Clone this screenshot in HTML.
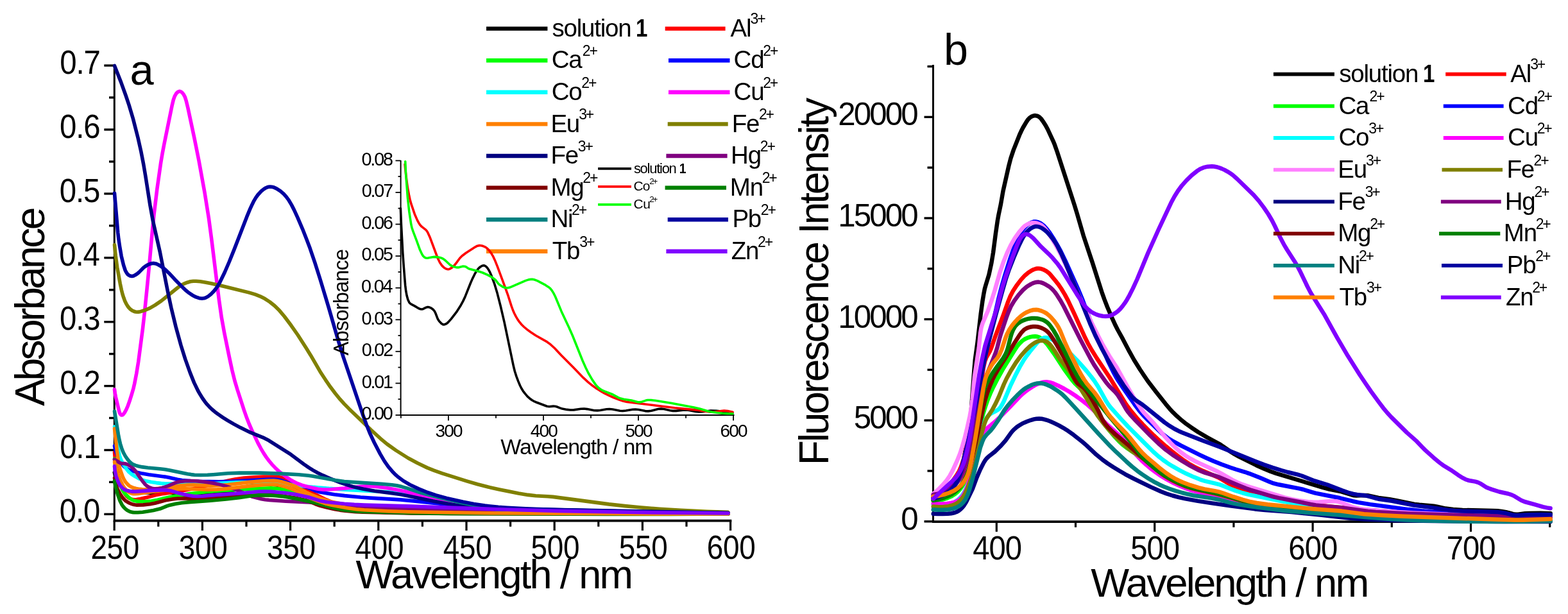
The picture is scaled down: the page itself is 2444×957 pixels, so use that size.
<!DOCTYPE html>
<html><head><meta charset="utf-8"><title>Absorbance and fluorescence spectra</title>
<style>
html,body{margin:0;padding:0;background:#fff;}
body{width:2444px;height:957px;overflow:hidden;}
svg{display:block;}
text{font-family:'Liberation Sans', Arial, sans-serif;fill:#000;}
</style></head><body>
<svg width="2444" height="957" viewBox="0 0 2444 957">
<rect width="2444" height="957" fill="#fff"/>
<line x1="178.3" y1="100.6" x2="178.3" y2="813.3" stroke="#000" stroke-width="3.0"/>
<line x1="176.8" y1="811.6" x2="1140.3" y2="811.6" stroke="#000" stroke-width="3.6"/>
<line x1="162.3" y1="801.4" x2="178.3" y2="801.4" stroke="#000" stroke-width="3.4"/>
<text x="100.74" y="814.1" font-size="51.50" textLength="69.14" lengthAdjust="spacing" transform="scale(0.9200 1)">0.0</text>
<line x1="162.3" y1="701.5" x2="178.3" y2="701.5" stroke="#000" stroke-width="3.4"/>
<text x="101.25" y="714.2" font-size="51.50" textLength="69.14" lengthAdjust="spacing" transform="scale(0.9200 1)">0.1</text>
<line x1="162.3" y1="601.6" x2="178.3" y2="601.6" stroke="#000" stroke-width="3.4"/>
<text x="101.38" y="614.3" font-size="51.50" textLength="69.14" lengthAdjust="spacing" transform="scale(0.9200 1)">0.2</text>
<line x1="162.3" y1="501.7" x2="178.3" y2="501.7" stroke="#000" stroke-width="3.4"/>
<text x="101.00" y="514.4" font-size="51.50" textLength="69.14" lengthAdjust="spacing" transform="scale(0.9200 1)">0.3</text>
<line x1="162.3" y1="401.8" x2="178.3" y2="401.8" stroke="#000" stroke-width="3.4"/>
<text x="100.22" y="414.5" font-size="51.50" textLength="69.14" lengthAdjust="spacing" transform="scale(0.9200 1)">0.4</text>
<line x1="162.3" y1="301.9" x2="178.3" y2="301.9" stroke="#000" stroke-width="3.4"/>
<text x="100.87" y="314.6" font-size="51.50" textLength="69.14" lengthAdjust="spacing" transform="scale(0.9200 1)">0.5</text>
<line x1="162.3" y1="202.0" x2="178.3" y2="202.0" stroke="#000" stroke-width="3.4"/>
<text x="101.00" y="214.7" font-size="51.50" textLength="69.14" lengthAdjust="spacing" transform="scale(0.9200 1)">0.6</text>
<line x1="162.3" y1="102.1" x2="178.3" y2="102.1" stroke="#000" stroke-width="3.4"/>
<text x="101.38" y="114.8" font-size="51.50" textLength="69.14" lengthAdjust="spacing" transform="scale(0.9200 1)">0.7</text>
<line x1="170.0" y1="751.4" x2="178.3" y2="751.4" stroke="#000" stroke-width="3.4"/>
<line x1="170.0" y1="651.5" x2="178.3" y2="651.5" stroke="#000" stroke-width="3.4"/>
<line x1="170.0" y1="551.6" x2="178.3" y2="551.6" stroke="#000" stroke-width="3.4"/>
<line x1="170.0" y1="451.8" x2="178.3" y2="451.8" stroke="#000" stroke-width="3.4"/>
<line x1="170.0" y1="351.8" x2="178.3" y2="351.8" stroke="#000" stroke-width="3.4"/>
<line x1="170.0" y1="251.9" x2="178.3" y2="251.9" stroke="#000" stroke-width="3.4"/>
<line x1="170.0" y1="152.0" x2="178.3" y2="152.0" stroke="#000" stroke-width="3.4"/>
<line x1="178.2" y1="811.6" x2="178.2" y2="827.0" stroke="#000" stroke-width="3.2"/>
<text x="161.41" y="870.8" font-size="52.40" textLength="86.63" lengthAdjust="spacing" transform="scale(0.8760 1)">250</text>
<line x1="315.4" y1="811.6" x2="315.4" y2="827.0" stroke="#000" stroke-width="3.2"/>
<text x="318.35" y="870.8" font-size="52.40" textLength="86.63" lengthAdjust="spacing" transform="scale(0.8760 1)">300</text>
<line x1="452.6" y1="811.6" x2="452.6" y2="827.0" stroke="#000" stroke-width="3.2"/>
<text x="474.98" y="870.8" font-size="52.40" textLength="86.63" lengthAdjust="spacing" transform="scale(0.8760 1)">350</text>
<line x1="589.8" y1="811.6" x2="589.8" y2="827.0" stroke="#000" stroke-width="3.2"/>
<text x="631.99" y="870.8" font-size="52.40" textLength="86.63" lengthAdjust="spacing" transform="scale(0.8760 1)">400</text>
<line x1="727.0" y1="811.6" x2="727.0" y2="827.0" stroke="#000" stroke-width="3.2"/>
<text x="788.61" y="870.8" font-size="52.40" textLength="86.63" lengthAdjust="spacing" transform="scale(0.8760 1)">450</text>
<line x1="864.2" y1="811.6" x2="864.2" y2="827.0" stroke="#000" stroke-width="3.2"/>
<text x="944.77" y="870.8" font-size="52.40" textLength="86.63" lengthAdjust="spacing" transform="scale(0.8760 1)">500</text>
<line x1="1001.4" y1="811.6" x2="1001.4" y2="827.0" stroke="#000" stroke-width="3.2"/>
<text x="1101.39" y="870.8" font-size="52.40" textLength="86.63" lengthAdjust="spacing" transform="scale(0.8760 1)">550</text>
<line x1="1138.6" y1="811.6" x2="1138.6" y2="827.0" stroke="#000" stroke-width="3.2"/>
<text x="1257.75" y="870.8" font-size="52.40" textLength="86.63" lengthAdjust="spacing" transform="scale(0.8760 1)">600</text>
<line x1="246.8" y1="811.6" x2="246.8" y2="820.8" stroke="#000" stroke-width="3.2"/>
<line x1="384.0" y1="811.6" x2="384.0" y2="820.8" stroke="#000" stroke-width="3.2"/>
<line x1="521.2" y1="811.6" x2="521.2" y2="820.8" stroke="#000" stroke-width="3.2"/>
<line x1="658.4" y1="811.6" x2="658.4" y2="820.8" stroke="#000" stroke-width="3.2"/>
<line x1="795.6" y1="811.6" x2="795.6" y2="820.8" stroke="#000" stroke-width="3.2"/>
<line x1="932.8" y1="811.6" x2="932.8" y2="820.8" stroke="#000" stroke-width="3.2"/>
<line x1="1070.0" y1="811.6" x2="1070.0" y2="820.8" stroke="#000" stroke-width="3.2"/>
<text x="554.58" y="916.8" font-size="63.00" textLength="432.51" lengthAdjust="spacing">Wavelength / nm</text>
<text x="-0.16" y="0" font-size="64.00" textLength="310.01" lengthAdjust="spacing" transform="translate(68.70 632.60) rotate(-90) scale(1.0000 1)">Absorbance</text>
<text x="202.46" y="132.0" font-size="66.80">a</text>
<path d="M178.3 736.4L179.7 741.7L181.9 747.3L184.7 752.6L187.7 757.2L190.8 760.4L194.4 763.0L198.0 764.8L202.3 765.9L209.7 766.6L234.7 768.1L241.2 768.1L256.1 767.5L265.1 767.8L274.1 768.7L285.8 771.3L292.2 772.3L299.1 772.9L306.1 772.8L314.1 772.2L324.0 771.0L337.9 769.1L349.2 767.2L362.9 764.4L384.6 758.6L397.4 756.1L404.3 755.2L411.3 754.6L417.3 754.5L422.3 754.7L431.2 755.9L441.0 757.9L449.2 760.1L457.7 763.0L462.8 765.1L468.6 767.9L501.8 785.3L507.3 787.7L514.0 789.9L523.2 792.3L535.9 794.6L543.9 795.5L561.3 796.8L583.8 797.9L618.8 799.0L640.8 799.4L1133.1 800.6" stroke="#000000" stroke-width="5.6" fill="none" stroke-linejoin="round" stroke-linecap="round"/>
<path d="M178.5 705.0L179.2 712.5L180.2 719.9L184.1 740.5L186.9 751.2L190.8 762.0L192.6 766.1L194.2 769.2L195.9 771.6L197.8 773.9L200.1 775.7L202.7 777.2L205.5 778.2L208.4 778.7L212.8 778.6L218.7 777.6L229.0 775.3L243.0 771.6L249.9 770.2L282.0 765.2L301.1 761.8L313.4 759.1L356.2 749.0L367.4 746.7L380.3 745.0L396.3 743.7L410.8 743.0L424.2 743.0L432.2 743.4L438.6 744.3L446.4 746.3L453.4 748.8L459.2 751.7L473.0 760.8L484.8 767.3L508.2 778.7L517.9 782.8L523.6 784.4L529.5 785.5L540.9 786.9L554.9 788.1L616.2 793.0L639.6 794.5L687.1 796.2L741.6 797.6L793.5 798.4L962.5 799.9L1054.5 800.4L1135.0 800.5" stroke="#FF0000" stroke-width="5.6" fill="none" stroke-linejoin="round" stroke-linecap="round"/>
<path d="M178.5 715.0L179.2 721.5L180.4 728.4L184.4 746.4L187.5 755.9L189.4 760.5L191.4 764.5L193.6 767.9L196.5 771.3L200.1 774.8L203.6 777.6L206.6 779.3L209.3 780.4L212.7 781.1L216.7 781.6L226.7 781.9L236.1 781.1L244.0 779.6L262.9 775.1L281.1 771.8L297.9 769.3L322.3 766.5L337.2 765.2L356.2 764.0L407.1 761.3L422.6 760.9L430.1 761.3L438.5 762.3L451.4 764.3L459.2 765.8L466.9 768.0L483.2 773.0L511.0 782.7L518.8 784.7L530.0 786.9L545.3 789.4L560.2 791.2L571.2 792.1L605.1 794.1L628.1 795.3L648.1 795.9L731.5 797.9L783.5 798.8L985.5 800.3L1135.0 800.5" stroke="#00FF00" stroke-width="5.6" fill="none" stroke-linejoin="round" stroke-linecap="round"/>
<path d="M178.5 695.0L179.8 700.8L181.6 706.6L184.6 714.0L187.3 719.3L190.1 723.4L193.0 726.8L196.5 729.7L199.9 731.7L203.5 733.3L208.8 734.9L221.9 738.1L231.7 739.8L257.0 743.1L263.4 744.3L276.5 747.3L283.9 748.5L296.9 749.6L310.3 750.3L341.3 750.7L360.3 750.2L414.7 747.3L424.7 747.1L430.7 747.3L434.1 747.8L438.0 748.7L449.8 752.8L454.6 754.2L472.7 758.1L478.5 759.6L483.2 761.3L491.9 765.1L496.2 766.4L507.4 768.6L521.3 770.7L537.1 772.6L562.0 775.0L577.0 776.1L623.9 778.9L642.3 780.6L698.5 786.5L734.8 789.3L764.3 791.3L804.7 793.2L904.6 796.0L1050.0 798.9L1135.0 800.0" stroke="#0000FF" stroke-width="5.6" fill="none" stroke-linejoin="round" stroke-linecap="round"/>
<path d="M178.5 665.0L179.9 676.4L182.5 692.2L184.4 702.0L186.4 710.3L188.1 715.5L190.2 720.0L193.8 726.0L197.7 731.8L200.9 735.6L205.1 739.1L211.0 742.9L217.2 746.2L221.8 748.0L226.6 749.4L235.4 751.2L243.8 752.6L251.2 753.4L258.2 753.8L318.2 753.8L334.2 753.5L368.1 751.9L385.1 751.5L407.6 751.6L427.1 752.4L440.0 753.7L472.3 757.7L512.6 761.4L545.0 763.6L608.4 767.0L624.9 768.2L633.3 769.4L642.1 771.1L670.8 778.0L681.5 780.3L706.7 784.6L724.5 787.3L737.4 789.0L749.8 790.1L784.2 792.7L813.1 794.5L847.6 795.9L949.1 798.2L1065.5 799.9L1135.0 800.5" stroke="#00FFFF" stroke-width="5.6" fill="none" stroke-linejoin="round" stroke-linecap="round"/>
<path d="M178.5 607.0L179.3 612.9L180.4 618.8L185.6 640.7L186.7 644.0L187.8 645.9L189.0 646.9L190.3 647.0L191.2 646.6L192.2 645.7L194.2 643.1L196.8 638.3L199.4 632.3L201.9 625.3L205.5 613.8L208.0 605.2L209.7 597.9L212.8 581.7L215.7 563.9L222.4 512.9L225.5 485.5L228.8 452.7L232.8 411.9L237.6 358.1L240.1 333.8L244.9 294.1L250.6 254.0L253.1 239.2L255.8 225.0L268.0 165.2L270.3 155.5L272.3 149.9L274.8 145.6L276.5 143.9L278.0 142.9L279.6 142.4L280.9 142.5L282.1 143.0L283.6 144.0L286.1 147.0L288.4 151.4L290.2 157.1L293.0 168.7L303.1 216.1L310.0 250.5L319.0 300.1L325.4 340.1L329.5 370.8L341.3 466.6L345.4 495.3L349.7 518.9L357.4 556.6L361.7 576.6L365.9 593.6L369.9 607.0L380.4 639.4L384.7 651.6L388.2 660.5L392.2 669.6L402.0 690.4L406.5 698.8L410.8 706.1L414.9 712.4L419.1 718.0L423.9 723.8L429.0 729.2L434.5 734.3L440.3 739.1L447.6 744.4L453.8 748.5L459.0 751.4L464.0 753.7L470.6 756.2L477.8 758.3L495.8 762.2L504.3 763.1L515.3 762.8L536.7 761.1L560.6 758.6L570.5 757.9L580.5 758.0L591.0 758.9L606.8 761.2L630.4 765.7L642.9 769.0L673.6 778.1L681.8 780.1L693.1 782.5L711.2 786.0L726.0 788.6L738.9 790.3L752.3 791.7L805.6 796.0L826.1 797.2L845.1 797.9L968.5 799.7L1135.0 801.0" stroke="#FF00FF" stroke-width="5.6" fill="none" stroke-linejoin="round" stroke-linecap="round"/>
<path d="M178.5 668.0L182.3 702.3L184.9 721.6L185.9 726.5L187.1 731.3L191.1 742.6L193.2 747.1L195.5 751.0L198.4 754.4L201.3 757.1L204.3 758.9L207.5 760.2L212.3 761.4L217.7 762.4L221.7 762.8L225.7 763.0L237.1 762.2L259.5 759.9L282.3 756.7L291.2 756.0L302.2 755.9L327.7 757.1L340.2 756.8L355.1 755.5L385.9 751.9L401.3 750.4L416.2 749.3L426.2 749.1L431.7 749.6L438.1 750.8L445.8 752.9L454.3 755.7L462.1 759.1L477.5 767.5L484.7 770.9L501.4 777.5L508.1 779.7L513.8 781.4L535.8 786.1L555.5 789.4L568.9 790.9L601.8 793.5L625.8 795.0L646.2 795.9L724.7 797.8L776.6 798.8L987.6 800.3L1135.0 800.5" stroke="#FF8000" stroke-width="5.6" fill="none" stroke-linejoin="round" stroke-linecap="round"/>
<path d="M178.5 381.5L180.2 398.4L182.7 416.7L187.3 442.3L189.4 452.1L191.1 458.9L192.8 464.1L194.7 469.2L196.7 473.3L198.7 476.7L200.8 479.5L203.2 481.9L206.0 484.0L208.7 485.3L211.0 486.0L213.5 486.2L215.9 486.1L218.9 485.7L226.0 483.5L233.8 480.1L241.6 475.6L251.5 468.9L276.8 448.5L281.6 445.0L286.5 442.4L292.0 440.2L296.8 438.8L301.3 438.2L305.7 438.2L312.2 438.8L319.6 440.0L328.9 441.8L345.5 445.5L387.7 455.9L397.8 458.9L405.3 461.8L412.8 465.6L420.4 470.5L428.2 476.7L435.6 484.1L443.3 493.3L453.8 507.3L464.1 522.0L477.1 542.2L484.2 553.7L499.0 579.2L507.7 592.6L515.1 603.3L522.6 613.3L529.9 622.2L536.6 629.6L544.3 637.4L578.2 670.0L593.3 683.8L603.3 692.1L617.2 702.0L636.2 714.0L650.7 721.8L666.0 729.1L676.7 733.4L689.4 737.9L727.5 749.9L744.3 754.8L760.8 759.0L778.4 762.9L808.3 768.9L823.1 771.4L835.0 772.8L853.9 773.7L861.9 774.4L949.1 785.9L974.0 788.6L996.9 790.8L1027.8 793.2L1061.2 795.3L1102.1 797.2L1134.6 798.3" stroke="#808000" stroke-width="5.6" fill="none" stroke-linejoin="round" stroke-linecap="round"/>
<path d="M178.5 102.5L188.6 128.1L196.2 149.3L201.1 163.9L207.4 185.0L215.1 215.1L219.8 236.0L223.7 256.1L226.8 274.4L234.0 320.3L238.5 344.9L249.4 393.2L261.7 455.5L266.9 479.9L274.1 509.5L282.1 538.5L288.8 559.9L296.2 580.6L302.5 596.4L308.6 609.0L312.1 615.1L315.8 621.0L319.3 625.9L322.7 630.2L326.4 634.2L330.4 638.0L335.0 641.9L340.2 645.8L347.2 650.6L354.8 655.4L364.3 660.9L374.9 666.6L390.6 674.2L409.7 681.8L419.0 686.6L451.1 706.8L473.6 723.5L481.4 728.9L487.8 732.9L495.2 737.0L503.3 740.9L513.4 745.4L522.6 749.2L531.0 752.4L541.4 755.9L549.6 758.4L557.3 760.3L566.6 762.2L583.9 765.2L612.6 768.9L625.0 770.8L638.7 773.4L674.9 781.1L705.5 786.4L726.2 789.4L742.7 791.0L781.6 792.5L835.6 793.9L1135.0 799.5" stroke="#000080" stroke-width="5.6" fill="none" stroke-linejoin="round" stroke-linecap="round"/>
<path d="M178.5 716.1L187.2 721.6L189.4 722.2L194.8 722.6L197.1 723.2L200.3 724.6L204.0 727.0L207.7 730.3L210.7 733.7L222.2 750.0L226.3 755.0L228.5 757.0L231.0 758.7L234.1 760.2L236.9 761.2L240.3 761.8L243.8 761.9L247.7 761.5L252.6 760.5L259.8 758.3L273.5 752.4L277.4 751.2L281.3 750.5L288.7 749.8L296.7 749.6L305.2 749.8L313.7 750.5L322.1 751.5L331.5 752.9L339.4 754.4L346.2 756.1L355.7 759.0L367.5 763.1L373.1 765.4L386.7 771.7L393.7 774.3L400.5 776.1L407.3 777.7L413.2 778.7L419.7 779.4L445.6 781.2L482.1 783.0L493.0 784.0L524.8 787.6L556.2 789.7L586.2 791.4L635.1 793.6L692.1 795.8L778.0 797.9L842.0 798.9L1009.5 800.2L1135.0 800.5" stroke="#800080" stroke-width="5.6" fill="none" stroke-linejoin="round" stroke-linecap="round"/>
<path d="M178.5 745.0L180.2 753.3L181.8 758.6L183.4 762.8L186.9 769.4L189.6 773.6L191.9 776.8L194.0 779.0L195.8 780.6L198.3 782.3L201.4 783.9L204.6 785.3L207.4 786.2L210.3 786.8L213.3 787.1L223.3 786.9L233.7 785.7L241.6 784.2L259.9 779.4L268.8 777.9L277.2 777.0L285.7 776.8L304.2 777.7L313.2 777.7L394.5 772.4L410.5 771.8L425.5 771.7L433.0 772.0L440.4 772.9L460.1 776.1L471.4 778.4L477.2 779.8L481.5 781.1L492.0 785.8L497.2 787.7L509.7 791.0L521.9 793.7L529.8 795.1L538.2 796.1L554.2 797.6L565.6 798.3L640.6 799.9L695.6 800.5L957.0 801.2L1135.0 801.0" stroke="#800000" stroke-width="5.6" fill="none" stroke-linejoin="round" stroke-linecap="round"/>
<path d="M178.5 749.6L180.2 758.9L184.0 772.4L186.9 780.4L190.0 786.6L192.0 789.5L194.0 791.7L196.2 793.7L198.6 795.5L201.2 796.9L203.5 797.8L205.9 798.4L208.8 798.7L214.8 798.7L222.3 798.2L230.2 797.1L239.1 795.5L249.3 793.1L260.4 788.7L265.2 787.2L274.0 785.3L283.4 783.8L294.8 782.6L325.7 780.5L352.6 778.0L372.5 775.8L388.8 773.2L395.2 772.4L402.7 771.9L411.2 771.8L420.7 772.0L430.7 772.6L439.6 773.6L449.0 775.0L463.8 777.7L485.3 782.2L494.5 784.5L517.1 790.9L529.3 793.7L536.7 794.9L546.1 796.0L556.6 796.9L566.6 797.5L647.5 799.7L700.5 800.5L946.0 801.5L1044.5 801.4L1135.0 801.0" stroke="#008000" stroke-width="5.6" fill="none" stroke-linejoin="round" stroke-linecap="round"/>
<path d="M178.5 641.0L184.4 677.0L186.0 685.4L187.5 691.7L189.4 697.9L190.9 702.1L192.7 706.2L195.4 711.0L198.8 715.9L202.0 719.7L205.0 722.3L208.0 724.1L211.2 725.4L216.0 726.7L221.9 727.9L230.3 729.0L249.2 730.7L257.7 731.7L264.6 732.9L292.4 738.7L297.9 739.6L303.3 740.2L312.8 740.5L323.3 740.3L332.3 739.7L355.2 737.7L373.7 737.1L405.2 737.1L435.1 738.1L465.6 739.8L481.0 741.2L487.9 742.2L522.8 748.6L536.7 750.5L548.1 751.4L594.5 754.2L611.0 755.7L618.4 756.8L626.2 758.6L634.3 760.9L652.9 767.0L661.5 769.6L684.7 775.5L705.6 780.4L720.8 783.7L760.0 791.7L773.3 793.9L785.2 795.2L833.6 797.4L885.6 798.8L1044.0 800.6L1135.0 801.0" stroke="#008080" stroke-width="5.6" fill="none" stroke-linejoin="round" stroke-linecap="round"/>
<path d="M178.5 301.0L183.7 362.3L184.9 372.7L186.6 384.1L189.2 399.3L192.6 413.4L195.3 421.5L196.6 424.1L198.2 426.6L200.3 428.6L202.8 430.0L205.6 430.4L208.3 429.9L211.0 428.6L214.3 426.4L216.9 424.1L223.9 417.0L226.7 415.0L230.1 412.9L233.8 411.3L237.1 410.5L240.0 410.4L243.4 411.1L246.6 412.5L250.0 414.5L254.5 417.7L258.7 421.2L263.4 425.7L272.2 435.2L285.2 448.4L289.5 452.5L293.4 455.7L299.6 459.9L305.3 462.9L310.5 464.7L314.9 465.2L318.3 464.8L321.5 463.6L324.9 461.6L328.8 458.5L332.7 454.6L336.2 450.4L339.6 445.4L342.8 439.8L350.2 424.5L357.3 408.0L365.3 388.1L384.6 338.2L389.8 325.7L392.9 318.9L395.8 313.1L398.9 307.9L402.1 303.5L406.8 298.3L411.4 294.6L414.0 293.0L416.2 292.0L418.6 291.3L421.0 291.1L423.5 291.2L425.9 291.7L430.9 293.8L436.8 297.6L442.1 302.1L446.1 306.6L450.2 312.2L454.3 319.1L458.4 327.1L463.8 338.9L471.5 356.8L477.4 371.7L483.2 387.1L490.8 409.4L499.4 436.5L512.1 478.6L527.4 531.4L535.1 556.3L565.5 646.2L571.5 662.7L576.3 674.7L583.3 689.7L592.5 707.4L599.1 718.6L605.4 727.6L612.9 736.3L616.8 740.2L621.0 743.8L629.0 749.7L638.9 755.5L652.5 761.9L666.4 767.5L679.7 771.9L696.1 776.4L721.9 782.3L738.6 785.6L755.9 788.1L776.8 790.3L790.2 791.3L824.2 793.1L869.6 794.6L983.6 797.2L1135.0 799.5" stroke="#0000A0" stroke-width="5.6" fill="none" stroke-linejoin="round" stroke-linecap="round"/>
<path d="M178.5 720.0L180.2 727.8L183.0 736.9L187.6 749.0L191.4 756.6L194.8 761.5L199.0 765.7L201.5 767.5L203.6 768.6L205.5 769.2L207.9 769.7L210.8 769.7L214.8 769.4L236.6 766.4L262.4 763.4L275.4 762.3L282.9 761.9L290.4 761.9L322.8 763.1L337.3 763.0L354.3 761.6L386.1 757.9L401.5 756.4L416.4 755.3L425.9 755.1L431.4 755.6L437.8 756.8L445.5 758.8L454.0 761.6L461.8 765.0L476.3 772.9L483.1 776.2L496.1 781.2L507.5 784.9L518.2 787.4L541.3 791.7L555.2 793.7L567.6 794.8L605.6 796.7L637.1 797.7L764.5 799.7L974.0 800.8L1135.0 801.0" stroke="#FF8000" stroke-width="5.6" fill="none" stroke-linejoin="round" stroke-linecap="round"/>
<path d="M178.5 726.6L179.2 734.1L180.9 741.9L183.9 750.3L185.6 753.9L187.2 756.5L190.4 760.3L192.2 761.9L194.3 763.2L196.6 764.2L199.4 765.1L205.3 766.1L211.8 766.1L231.7 764.6L241.2 764.1L252.2 763.9L260.7 764.1L267.1 765.1L279.0 768.7L293.2 771.9L301.0 773.2L307.5 773.5L315.5 773.2L336.9 771.4L371.8 769.0L402.7 766.3L412.2 766.0L422.7 766.3L444.6 768.2L460.4 770.6L481.0 775.0L498.6 780.4L507.0 782.1L521.3 783.8L536.8 785.3L552.2 786.4L567.7 787.1L641.2 789.1L773.6 793.7L868.5 796.4L1019.0 798.9L1135.0 800.0" stroke="#8000FF" stroke-width="5.6" fill="none" stroke-linejoin="round" stroke-linecap="round"/>
<line x1="758.0" y1="44.6" x2="853.4" y2="44.6" stroke="#000000" stroke-width="6.4"/>
<text x="860.54" y="56.8" font-size="38.50" textLength="124.03" lengthAdjust="spacing">solution</text>
<text x="1152.48" y="56.8" font-size="38.50" transform="scale(0.8600 1)" font-weight="bold">1</text>
<line x1="758.0" y1="94.2" x2="853.4" y2="94.2" stroke="#00FF00" stroke-width="6.4"/>
<text x="859.68" y="106.4" font-size="38.50" textLength="47.98" lengthAdjust="spacing">Ca</text>
<text x="907.77" y="87.0" font-size="23.00" textLength="24.10" lengthAdjust="spacing">2+</text>
<line x1="758.0" y1="143.8" x2="853.4" y2="143.8" stroke="#00FFFF" stroke-width="6.4"/>
<text x="859.68" y="156.0" font-size="38.50" textLength="47.98" lengthAdjust="spacing">Co</text>
<text x="906.23" y="136.6" font-size="23.00" textLength="24.10" lengthAdjust="spacing">2+</text>
<line x1="758.0" y1="193.4" x2="853.4" y2="193.4" stroke="#FF8000" stroke-width="6.4"/>
<text x="858.42" y="205.6" font-size="38.50" textLength="45.85" lengthAdjust="spacing">Eu</text>
<text x="902.19" y="186.2" font-size="23.00" textLength="24.10" lengthAdjust="spacing">3+</text>
<line x1="758.0" y1="243.0" x2="853.4" y2="243.0" stroke="#000080" stroke-width="6.4"/>
<text x="858.42" y="255.2" font-size="38.50" textLength="43.69" lengthAdjust="spacing">Fe</text>
<text x="900.84" y="235.8" font-size="23.00" textLength="24.10" lengthAdjust="spacing">3+</text>
<line x1="758.0" y1="292.6" x2="853.4" y2="292.6" stroke="#800000" stroke-width="6.4"/>
<text x="858.42" y="304.8" font-size="38.50" textLength="52.24" lengthAdjust="spacing">Mg</text>
<text x="908.35" y="285.4" font-size="23.00" textLength="24.10" lengthAdjust="spacing">2+</text>
<line x1="758.0" y1="342.2" x2="853.4" y2="342.2" stroke="#008080" stroke-width="6.4"/>
<text x="858.42" y="354.4" font-size="38.50" textLength="35.12" lengthAdjust="spacing">Ni</text>
<text x="891.12" y="335.0" font-size="23.00" textLength="24.10" lengthAdjust="spacing">2+</text>
<line x1="758.0" y1="391.8" x2="853.4" y2="391.8" stroke="#FF8000" stroke-width="6.4"/>
<text x="860.73" y="404.0" font-size="38.50" textLength="43.69" lengthAdjust="spacing">Tb</text>
<text x="903.25" y="384.6" font-size="23.00" textLength="24.10" lengthAdjust="spacing">3+</text>
<line x1="1036.7" y1="44.6" x2="1130.6" y2="44.6" stroke="#FF0000" stroke-width="6.4"/>
<text x="1138.60" y="56.8" font-size="38.50" textLength="32.99" lengthAdjust="spacing">Al</text>
<text x="1169.47" y="37.4" font-size="23.00" textLength="24.10" lengthAdjust="spacing">3+</text>
<line x1="1042.0" y1="94.2" x2="1137.5" y2="94.2" stroke="#0000FF" stroke-width="6.4"/>
<text x="1143.58" y="106.4" font-size="38.50" textLength="47.98" lengthAdjust="spacing">Cd</text>
<text x="1189.26" y="87.0" font-size="23.00" textLength="24.10" lengthAdjust="spacing">2+</text>
<line x1="1042.0" y1="143.8" x2="1137.5" y2="143.8" stroke="#FF00FF" stroke-width="6.4"/>
<text x="1143.58" y="156.0" font-size="38.50" textLength="47.98" lengthAdjust="spacing">Cu</text>
<text x="1189.17" y="136.6" font-size="23.00" textLength="24.10" lengthAdjust="spacing">2+</text>
<line x1="1040.7" y1="193.4" x2="1134.7" y2="193.4" stroke="#808000" stroke-width="6.4"/>
<text x="1140.82" y="205.6" font-size="38.50" textLength="43.69" lengthAdjust="spacing">Fe</text>
<text x="1182.95" y="186.2" font-size="23.00" textLength="24.10" lengthAdjust="spacing">2+</text>
<line x1="1038.4" y1="243.0" x2="1133.6" y2="243.0" stroke="#800080" stroke-width="6.4"/>
<text x="1139.12" y="255.2" font-size="38.50" textLength="47.98" lengthAdjust="spacing">Hg</text>
<text x="1184.81" y="235.8" font-size="23.00" textLength="24.10" lengthAdjust="spacing">2+</text>
<line x1="1036.6" y1="292.6" x2="1132.0" y2="292.6" stroke="#008000" stroke-width="6.4"/>
<text x="1137.82" y="304.8" font-size="38.50" textLength="52.24" lengthAdjust="spacing">Mn</text>
<text x="1187.65" y="285.4" font-size="23.00" textLength="24.10" lengthAdjust="spacing">2+</text>
<line x1="1040.7" y1="342.2" x2="1135.0" y2="342.2" stroke="#0000A0" stroke-width="6.4"/>
<text x="1141.42" y="354.4" font-size="38.50" textLength="45.85" lengthAdjust="spacing">Pb</text>
<text x="1185.86" y="335.0" font-size="23.00" textLength="24.10" lengthAdjust="spacing">2+</text>
<line x1="1038.4" y1="391.8" x2="1133.6" y2="391.8" stroke="#8000FF" stroke-width="6.4"/>
<text x="1139.75" y="404.0" font-size="38.50" textLength="43.69" lengthAdjust="spacing">Zn</text>
<text x="1181.01" y="384.6" font-size="23.00" textLength="24.10" lengthAdjust="spacing">2+</text>
<line x1="624.6" y1="250.0" x2="624.6" y2="648.0" stroke="#000" stroke-width="2.0"/>
<line x1="623.6" y1="647.0" x2="1144.5" y2="647.0" stroke="#000" stroke-width="2.0"/>
<line x1="616.5" y1="647.0" x2="624.6" y2="647.0" stroke="#000" stroke-width="1.8"/>
<text x="563.40" y="654.3" font-size="28.80" textLength="49.42" lengthAdjust="spacing">0.00</text>
<line x1="616.5" y1="597.4" x2="624.6" y2="597.4" stroke="#000" stroke-width="1.8"/>
<text x="563.69" y="604.7" font-size="28.80" textLength="49.42" lengthAdjust="spacing">0.01</text>
<line x1="616.5" y1="547.8" x2="624.6" y2="547.8" stroke="#000" stroke-width="1.8"/>
<text x="563.76" y="555.1" font-size="28.80" textLength="49.42" lengthAdjust="spacing">0.02</text>
<line x1="616.5" y1="498.3" x2="624.6" y2="498.3" stroke="#000" stroke-width="1.8"/>
<text x="563.55" y="505.6" font-size="28.80" textLength="49.42" lengthAdjust="spacing">0.03</text>
<line x1="616.5" y1="448.7" x2="624.6" y2="448.7" stroke="#000" stroke-width="1.8"/>
<text x="563.12" y="456.0" font-size="28.80" textLength="49.42" lengthAdjust="spacing">0.04</text>
<line x1="616.5" y1="399.1" x2="624.6" y2="399.1" stroke="#000" stroke-width="1.8"/>
<text x="563.48" y="406.4" font-size="28.80" textLength="49.42" lengthAdjust="spacing">0.05</text>
<line x1="616.5" y1="349.5" x2="624.6" y2="349.5" stroke="#000" stroke-width="1.8"/>
<text x="563.55" y="356.8" font-size="28.80" textLength="49.42" lengthAdjust="spacing">0.06</text>
<line x1="616.5" y1="299.9" x2="624.6" y2="299.9" stroke="#000" stroke-width="1.8"/>
<text x="563.76" y="307.2" font-size="28.80" textLength="49.42" lengthAdjust="spacing">0.07</text>
<line x1="616.5" y1="250.4" x2="624.6" y2="250.4" stroke="#000" stroke-width="1.8"/>
<text x="563.55" y="257.7" font-size="28.80" textLength="49.42" lengthAdjust="spacing">0.08</text>
<line x1="620.5" y1="622.2" x2="624.6" y2="622.2" stroke="#000" stroke-width="1.8"/>
<line x1="620.5" y1="572.6" x2="624.6" y2="572.6" stroke="#000" stroke-width="1.8"/>
<line x1="620.5" y1="523.0" x2="624.6" y2="523.0" stroke="#000" stroke-width="1.8"/>
<line x1="620.5" y1="473.5" x2="624.6" y2="473.5" stroke="#000" stroke-width="1.8"/>
<line x1="620.5" y1="423.9" x2="624.6" y2="423.9" stroke="#000" stroke-width="1.8"/>
<line x1="620.5" y1="374.3" x2="624.6" y2="374.3" stroke="#000" stroke-width="1.8"/>
<line x1="620.5" y1="324.7" x2="624.6" y2="324.7" stroke="#000" stroke-width="1.8"/>
<line x1="620.5" y1="275.1" x2="624.6" y2="275.1" stroke="#000" stroke-width="1.8"/>
<line x1="698.9" y1="647.0" x2="698.9" y2="655.5" stroke="#000" stroke-width="1.8"/>
<text x="678.43" y="680.6" font-size="28.00" textLength="43.03" lengthAdjust="spacing">300</text>
<line x1="847.0" y1="647.0" x2="847.0" y2="655.5" stroke="#000" stroke-width="1.8"/>
<text x="826.70" y="680.6" font-size="28.00" textLength="43.03" lengthAdjust="spacing">400</text>
<line x1="995.0" y1="647.0" x2="995.0" y2="655.5" stroke="#000" stroke-width="1.8"/>
<text x="974.51" y="680.6" font-size="28.00" textLength="43.03" lengthAdjust="spacing">500</text>
<line x1="1143.1" y1="647.0" x2="1143.1" y2="655.5" stroke="#000" stroke-width="1.8"/>
<text x="1122.43" y="680.6" font-size="28.00" textLength="43.03" lengthAdjust="spacing">600</text>
<line x1="624.9" y1="647.0" x2="624.9" y2="651.7" stroke="#000" stroke-width="1.8"/>
<line x1="773.0" y1="647.0" x2="773.0" y2="651.7" stroke="#000" stroke-width="1.8"/>
<line x1="921.0" y1="647.0" x2="921.0" y2="651.7" stroke="#000" stroke-width="1.8"/>
<line x1="1069.1" y1="647.0" x2="1069.1" y2="651.7" stroke="#000" stroke-width="1.8"/>
<text x="780.33" y="708.4" font-size="34.00" textLength="237.23" lengthAdjust="spacing">Wavelength / nm</text>
<text x="-0.08" y="0" font-size="32.50" textLength="166.13" lengthAdjust="spacing" transform="translate(542.60 554.00) rotate(-90) scale(1.0000 1)">Absorbance</text>
<path d="M624.4 324.8L625.4 349.8L627.8 394.2L629.3 415.6L631.7 445.0L632.7 453.4L634.1 460.8L635.8 467.0L637.7 471.1L638.9 472.6L640.9 474.1L646.2 476.9L652.2 480.5L655.4 481.8L657.3 482.0L658.8 481.8L664.2 479.2L666.5 478.6L668.9 478.8L672.1 480.2L674.9 482.3L677.2 484.9L678.8 488.0L682.4 497.3L684.0 499.8L685.9 502.1L688.0 504.3L690.0 505.6L691.9 505.9L694.2 505.3L696.4 504.1L698.3 502.5L703.0 497.4L711.3 486.7L717.5 477.1L721.6 469.6L724.8 462.9L733.3 441.5L736.3 434.6L740.3 426.5L743.4 421.4L745.3 419.1L747.0 417.3L749.0 415.8L751.1 414.5L752.9 413.9L754.4 413.8L755.7 414.2L757.4 415.2L759.4 417.3L761.4 420.2L763.6 424.2L765.6 428.7L770.5 441.8L775.1 457.1L780.2 477.0L786.0 501.8L800.3 570.3L802.3 578.5L804.9 586.6L807.7 594.1L810.6 601.0L812.6 605.0L815.2 609.3L818.5 613.7L822.1 617.9L825.8 621.2L829.4 623.8L832.0 625.3L835.2 626.7L852.5 633.2L856.0 633.7L862.4 633.1L864.9 633.2L867.3 633.8L873.4 636.1L876.2 637.0L883.6 638.4L889.0 639.0L894.5 638.9L905.4 637.3L910.4 637.0L915.3 637.6L926.1 639.7L931.1 639.9L935.6 639.5L945.4 637.8L949.9 637.5L954.9 638.0L966.2 640.2L970.6 640.5L975.6 640.0L986.0 638.3L990.4 638.0L995.4 638.5L1005.7 640.6L1010.2 640.9L1015.1 640.3L1025.7 637.5L1030.2 637.1L1034.6 637.5L1044.4 639.7L1048.8 640.4L1053.8 640.4L1064.7 639.2L1069.7 639.0L1074.2 639.5L1084.5 641.4L1089.5 641.9L1094.9 641.7L1107.8 640.1L1116.3 640.2L1126.7 641.3L1142.0 644.0" stroke="#000000" stroke-width="3.6" fill="none" stroke-linejoin="round" stroke-linecap="round"/>
<path d="M631.1 256.0L632.0 266.0L633.9 281.8L635.5 293.2L637.6 304.5L638.9 310.4L640.7 317.1L646.3 333.7L650.3 342.9L652.4 346.9L654.5 350.2L657.2 353.2L663.9 358.4L665.5 360.3L667.0 362.9L670.4 370.6L682.3 402.5L685.6 409.2L689.0 414.1L691.9 416.9L695.2 419.0L698.1 419.7L699.5 419.6L700.9 419.2L704.3 417.1L708.7 413.0L711.2 409.9L716.8 402.2L720.3 398.7L726.3 394.2L741.0 384.8L743.2 383.6L745.6 382.9L747.6 382.6L749.5 382.7L752.0 383.2L754.3 384.1L757.0 385.4L759.0 386.9L762.2 390.0L765.5 394.4L768.3 399.1L771.3 405.4L775.4 415.6L787.7 448.9L792.1 461.2L797.1 476.9L799.5 483.5L801.7 488.5L804.2 493.4L807.0 498.1L809.9 502.2L813.1 506.0L816.7 509.5L821.3 513.4L827.3 517.8L834.8 522.8L851.4 532.1L855.5 534.9L859.0 537.7L864.5 542.8L874.8 553.7L893.5 572.5L909.1 588.7L916.1 595.1L923.1 600.8L928.8 604.9L934.7 608.6L942.5 613.1L949.6 616.7L956.0 619.5L965.8 623.2L972.0 625.2L977.4 626.5L1051.8 635.7L1089.1 639.4L1106.9 642.1L1110.4 642.3L1113.4 642.2L1124.2 640.5L1128.7 640.1L1134.2 640.6L1142.0 642.3" stroke="#FF0000" stroke-width="3.6" fill="none" stroke-linejoin="round" stroke-linecap="round"/>
<path d="M631.7 251.7L632.7 272.7L635.5 309.0L637.8 329.9L640.8 349.7L641.9 354.5L643.7 360.2L649.4 375.2L654.7 389.8L657.9 396.5L659.5 399.0L661.3 400.8L663.4 401.9L665.3 402.3L667.3 402.1L674.1 400.7L677.1 400.4L681.1 400.6L686.0 401.5L688.8 402.4L691.4 403.8L694.2 406.0L701.4 412.8L704.0 414.4L706.7 415.6L710.6 416.6L713.5 416.9L716.0 416.6L721.8 415.1L724.2 415.2L726.0 415.8L729.8 418.3L732.0 419.3L744.6 422.5L752.2 425.0L760.4 428.6L767.8 432.8L772.5 436.5L776.4 441.7L778.5 443.8L783.5 447.0L787.7 448.6L791.1 448.8L794.5 448.1L819.3 437.4L824.0 435.9L828.0 435.3L830.0 435.4L832.4 435.8L837.6 437.6L850.4 444.4L855.0 447.4L857.7 449.6L859.9 452.3L862.8 456.9L865.5 462.3L875.1 485.4L887.2 511.2L892.6 523.5L908.0 562.0L912.9 573.0L917.1 581.5L923.1 591.9L928.5 599.6L930.8 602.3L933.3 604.7L935.7 606.5L938.7 608.3L942.4 609.9L953.6 614.2L963.7 619.6L967.4 621.1L972.2 622.3L984.1 624.0L994.2 626.7L996.7 626.9L999.2 626.6L1006.7 624.1L1009.7 623.5L1014.1 623.5L1021.1 624.2L1045.8 628.2L1081.6 635.1L1090.4 637.0L1103.8 640.9L1109.7 642.2L1117.6 643.3L1126.0 644.2L1134.0 644.6L1142.0 644.7" stroke="#00FF00" stroke-width="3.6" fill="none" stroke-linejoin="round" stroke-linecap="round"/>
<line x1="932.1" y1="262.9" x2="984.0" y2="262.9" stroke="#000000" stroke-width="3.8"/>
<text x="987.89" y="269.6" font-size="22.00" textLength="66.98" lengthAdjust="spacing">solution</text>
<text x="1203.06" y="269.6" font-size="22.00" transform="scale(0.8800 1)" font-weight="bold">1</text>
<line x1="932.1" y1="290.9" x2="984.0" y2="290.9" stroke="#FF0000" stroke-width="3.8"/>
<text x="987.45" y="296.9" font-size="21.00" textLength="25.91" lengthAdjust="spacing">Co</text>
<text x="1012.34" y="286.9" font-size="13.30" textLength="13.03" lengthAdjust="spacing">2+</text>
<line x1="932.1" y1="318.8" x2="984.0" y2="318.8" stroke="#00FF00" stroke-width="3.8"/>
<text x="987.45" y="325.1" font-size="21.00" textLength="26.43" lengthAdjust="spacing">Cu</text>
<text x="1012.34" y="314.6" font-size="13.30" textLength="13.03" lengthAdjust="spacing">2+</text>
<line x1="1454.5" y1="101.0" x2="1454.5" y2="814.8" stroke="#000" stroke-width="3.0"/>
<line x1="1452.9" y1="813.1" x2="2417.5" y2="813.1" stroke="#000" stroke-width="3.6"/>
<line x1="1440.5" y1="812.8" x2="1454.5" y2="812.8" stroke="#000" stroke-width="3.4"/>
<text x="1432.80" y="825.8" font-size="50.20" transform="scale(0.9800 1)">0</text>
<line x1="1440.5" y1="655.2" x2="1454.5" y2="655.2" stroke="#000" stroke-width="3.4"/>
<text x="1357.86" y="668.2" font-size="50.20" textLength="102.91" lengthAdjust="spacing" transform="scale(0.9800 1)">5000</text>
<line x1="1440.5" y1="497.6" x2="1454.5" y2="497.6" stroke="#000" stroke-width="3.4"/>
<text x="1332.80" y="510.6" font-size="50.20" textLength="127.91" lengthAdjust="spacing" transform="scale(0.9800 1)">10000</text>
<line x1="1440.5" y1="340.0" x2="1454.5" y2="340.0" stroke="#000" stroke-width="3.4"/>
<text x="1332.80" y="353.0" font-size="50.20" textLength="127.91" lengthAdjust="spacing" transform="scale(0.9800 1)">15000</text>
<line x1="1440.5" y1="182.4" x2="1454.5" y2="182.4" stroke="#000" stroke-width="3.4"/>
<text x="1332.80" y="195.4" font-size="50.20" textLength="127.91" lengthAdjust="spacing" transform="scale(0.9800 1)">20000</text>
<line x1="1445.5" y1="734.0" x2="1454.5" y2="734.0" stroke="#000" stroke-width="3.4"/>
<line x1="1445.5" y1="576.4" x2="1454.5" y2="576.4" stroke="#000" stroke-width="3.4"/>
<line x1="1445.5" y1="418.8" x2="1454.5" y2="418.8" stroke="#000" stroke-width="3.4"/>
<line x1="1445.5" y1="261.2" x2="1454.5" y2="261.2" stroke="#000" stroke-width="3.4"/>
<line x1="1445.5" y1="103.6" x2="1454.5" y2="103.6" stroke="#000" stroke-width="3.4"/>
<line x1="1553.3" y1="813.1" x2="1553.3" y2="828.8" stroke="#000" stroke-width="3.2"/>
<text x="1648.04" y="872.4" font-size="51.30" textLength="83.56" lengthAdjust="spacing" transform="scale(0.9200 1)">400</text>
<line x1="1799.7" y1="813.1" x2="1799.7" y2="828.8" stroke="#000" stroke-width="3.2"/>
<text x="1915.42" y="872.4" font-size="51.30" textLength="83.56" lengthAdjust="spacing" transform="scale(0.9200 1)">500</text>
<line x1="2046.1" y1="813.1" x2="2046.1" y2="828.8" stroke="#000" stroke-width="3.2"/>
<text x="2182.99" y="872.4" font-size="51.30" textLength="83.56" lengthAdjust="spacing" transform="scale(0.9200 1)">600</text>
<line x1="2292.5" y1="813.1" x2="2292.5" y2="828.8" stroke="#000" stroke-width="3.2"/>
<text x="2450.75" y="872.4" font-size="51.30" textLength="83.56" lengthAdjust="spacing" transform="scale(0.9200 1)">700</text>
<line x1="1676.5" y1="813.1" x2="1676.5" y2="821.8" stroke="#000" stroke-width="3.2"/>
<line x1="1922.9" y1="813.1" x2="1922.9" y2="821.8" stroke="#000" stroke-width="3.2"/>
<line x1="2169.3" y1="813.1" x2="2169.3" y2="821.8" stroke="#000" stroke-width="3.2"/>
<line x1="2415.7" y1="813.1" x2="2415.7" y2="821.8" stroke="#000" stroke-width="3.2"/>
<text x="1700.18" y="929.9" font-size="63.40" textLength="434.04" lengthAdjust="spacing">Wavelength / nm</text>
<text x="-5.28" y="0" font-size="64.00" textLength="573.15" lengthAdjust="spacing" transform="translate(1290.50 719.90) rotate(-90) scale(1.0000 1)">Fluorescence Intensity</text>
<text x="1470.96" y="100.8" font-size="68.30">b</text>
<path d="M1454.7 774.9L1462.0 773.6L1465.8 772.4L1469.5 770.8L1473.1 769.0L1476.5 766.9L1479.7 764.6L1482.8 762.0L1488.3 756.2L1490.7 753.0L1492.5 750.1L1495.2 744.2L1497.8 735.6L1500.2 725.9L1502.6 713.6L1509.9 673.8L1511.7 662.4L1513.6 642.5L1518.3 578.2L1519.8 560.8L1523.5 534.0L1528.7 489.4L1531.4 469.5L1533.2 458.7L1534.9 449.9L1536.4 444.6L1541.4 428.3L1545.4 409.8L1548.1 393.5L1551.9 364.2L1554.9 343.5L1556.4 335.1L1559.9 318.5L1563.5 297.8L1572.4 258.3L1575.4 246.7L1579.7 233.9L1589.1 210.2L1591.8 204.3L1594.5 199.0L1599.6 190.3L1602.4 186.2L1605.2 183.4L1608.1 181.5L1610.8 180.4L1613.6 180.1L1616.9 180.7L1619.9 182.3L1622.7 185.0L1625.6 189.1L1629.9 195.8L1633.0 201.5L1641.4 219.6L1643.9 225.6L1647.9 237.0L1674.6 319.2L1678.7 332.6L1688.7 367.2L1702.6 408.9L1717.3 455.1L1721.3 466.4L1726.0 478.5L1733.1 495.1L1738.7 507.3L1742.1 514.0L1750.1 528.4L1760.6 548.4L1767.6 561.0L1777.1 576.3L1788.9 593.7L1801.9 610.8L1816.8 629.6L1823.2 637.2L1828.3 642.7L1834.1 648.3L1840.5 653.9L1847.1 659.3L1856.0 665.7L1867.2 673.2L1881.8 681.9L1900.8 692.0L1906.2 695.6L1918.0 704.0L1924.3 708.0L1930.9 711.6L1958.2 725.2L1970.0 730.6L1980.2 734.8L1989.1 737.9L2061.9 759.8L2072.0 762.5L2091.1 766.4L2107.3 771.5L2110.7 772.2L2114.2 772.5L2126.1 772.0L2131.6 772.3L2148.7 775.9L2166.0 778.3L2175.4 779.9L2204.8 785.9L2212.2 786.8L2234.6 788.8L2240.0 789.7L2253.2 792.6L2265.1 794.0L2279.6 795.0L2326.1 795.9L2334.1 796.2L2340.0 796.9L2347.4 798.2L2351.3 799.1L2358.4 801.2L2362.4 801.8L2366.3 801.7L2377.2 800.3L2383.7 800.0L2400.7 799.8L2416.7 800.3" stroke="#000000" stroke-width="6.5" fill="none" stroke-linejoin="round" stroke-linecap="round"/>
<path d="M1454.7 772.0L1461.2 769.3L1467.3 765.9L1473.4 761.6L1478.5 756.9L1484.4 750.1L1490.8 741.2L1494.9 734.3L1497.9 727.5L1501.8 716.1L1504.9 704.0L1518.3 637.9L1521.2 625.2L1528.4 598.2L1530.0 590.3L1533.1 572.1L1535.2 562.9L1537.5 556.8L1543.0 547.3L1545.0 542.7L1551.5 523.8L1564.2 490.2L1571.4 469.9L1574.8 461.6L1579.0 453.6L1584.4 445.2L1591.3 436.1L1597.4 429.4L1602.7 424.9L1608.6 421.2L1611.3 420.0L1614.2 419.0L1616.6 418.5L1619.0 418.4L1622.9 419.0L1626.7 420.3L1631.0 422.6L1634.6 425.3L1637.7 428.6L1646.6 439.4L1650.2 444.1L1653.9 449.5L1659.6 458.9L1664.8 468.6L1674.6 489.4L1691.3 526.3L1695.8 535.2L1701.1 544.8L1709.6 558.4L1729.5 588.3L1755.2 630.1L1762.5 640.2L1771.5 650.9L1780.9 661.2L1788.3 668.7L1797.9 678.2L1807.8 687.3L1817.2 695.6L1826.8 703.5L1835.5 710.3L1846.0 718.0L1853.5 723.0L1861.3 727.4L1875.3 734.1L1899.6 744.6L1904.4 747.2L1915.1 753.6L1920.0 756.2L1929.2 760.0L1942.6 764.2L1985.0 775.8L1999.6 779.3L2014.3 782.2L2032.6 785.1L2046.5 786.8L2070.3 789.3L2104.2 792.5L2137.0 795.3L2181.4 798.6L2211.8 800.3L2247.8 801.9L2279.3 803.0L2361.2 805.1L2416.7 806.0" stroke="#FF0000" stroke-width="6.5" fill="none" stroke-linejoin="round" stroke-linecap="round"/>
<path d="M1454.7 781.0L1461.6 780.2L1468.5 778.8L1477.1 776.1L1483.5 773.3L1488.5 770.1L1493.1 766.2L1496.7 762.2L1500.1 757.2L1503.3 751.6L1506.4 745.3L1509.2 738.3L1511.6 731.2L1514.3 721.6L1517.4 709.5L1523.0 685.7L1529.0 658.3L1532.6 644.3L1536.0 633.3L1539.8 622.5L1543.6 613.2L1548.0 603.7L1555.8 588.6L1562.9 575.9L1581.5 545.7L1584.5 541.1L1587.2 537.5L1589.9 534.5L1592.8 531.8L1595.5 529.7L1598.5 527.9L1602.2 526.3L1606.0 525.1L1609.9 524.4L1613.3 524.2L1615.8 524.5L1618.2 525.1L1620.5 526.0L1622.6 527.2L1625.0 529.0L1627.2 531.0L1631.9 536.2L1644.5 553.6L1659.5 576.6L1670.0 591.2L1675.5 597.7L1686.8 608.3L1689.2 610.8L1691.6 614.0L1696.2 621.2L1707.1 640.8L1711.8 647.9L1718.4 657.3L1724.8 665.6L1731.5 673.7L1738.0 681.3L1743.5 687.1L1749.3 692.6L1755.2 697.3L1775.3 711.2L1782.2 716.2L1803.5 734.3L1812.7 741.3L1820.3 746.1L1829.9 751.3L1839.0 755.6L1847.8 759.1L1854.5 761.2L1861.7 763.2L1900.3 771.6L1911.4 774.5L1942.7 783.3L1952.9 785.8L1961.7 787.4L1973.6 789.1L1989.5 790.8L2050.3 796.1L2111.4 802.4L2130.4 803.9L2149.8 805.0L2185.8 806.5L2223.8 807.7L2264.2 808.7L2343.7 810.1L2416.7 811.0" stroke="#00FF00" stroke-width="6.5" fill="none" stroke-linejoin="round" stroke-linecap="round"/>
<path d="M1454.7 775.9L1461.5 774.3L1468.4 771.6L1475.0 767.9L1480.5 763.7L1485.0 759.0L1488.8 753.8L1492.1 747.6L1495.3 739.8L1497.7 732.7L1500.1 724.5L1506.8 697.8L1510.9 678.3L1517.8 640.9L1526.9 600.4L1533.4 566.5L1536.5 551.8L1556.4 465.6L1561.2 446.7L1566.6 428.0L1573.8 405.1L1579.6 388.6L1585.3 374.7L1590.9 363.5L1593.3 359.7L1595.9 356.1L1598.6 353.2L1601.6 350.5L1604.8 348.3L1608.4 346.5L1611.2 345.6L1614.1 345.4L1617.9 346.2L1622.4 348.3L1626.7 351.6L1630.9 355.9L1635.8 362.2L1641.5 371.0L1647.4 380.9L1653.2 391.4L1660.6 406.7L1681.3 452.7L1686.7 465.7L1699.6 499.8L1715.4 534.9L1726.9 562.6L1735.2 579.7L1739.3 587.2L1743.4 594.0L1751.2 605.7L1768.4 630.2L1775.6 639.8L1782.1 647.4L1790.5 656.0L1811.9 676.3L1819.8 682.4L1829.1 688.2L1840.6 694.4L1869.7 708.9L1880.1 713.8L1891.5 718.8L1904.1 723.8L1917.2 728.5L1926.2 731.5L1940.6 735.8L1947.2 738.1L1964.9 745.1L1978.2 750.8L1983.3 752.8L1993.0 755.3L2025.9 761.6L2031.7 763.0L2044.1 766.9L2050.4 768.6L2088.6 776.3L2108.5 781.2L2117.3 783.1L2135.6 786.1L2195.5 794.1L2215.4 796.3L2233.8 797.9L2250.8 798.8L2292.8 800.3L2341.2 802.7L2381.7 803.7L2416.7 804.1" stroke="#0000FF" stroke-width="6.5" fill="none" stroke-linejoin="round" stroke-linecap="round"/>
<path d="M1454.7 786.0L1462.7 786.7L1470.1 786.7L1477.1 785.9L1483.4 784.4L1488.4 782.3L1493.0 779.2L1497.0 775.5L1500.7 770.8L1503.7 765.7L1506.6 759.8L1509.2 753.4L1511.6 746.3L1516.0 729.9L1529.7 673.0L1533.3 661.5L1535.1 656.9L1537.0 652.8L1539.4 649.0L1542.1 646.2L1545.4 644.0L1552.1 640.8L1554.7 639.3L1557.0 637.5L1559.3 634.9L1561.9 630.7L1564.9 624.9L1574.6 601.9L1583.5 583.4L1590.2 570.6L1596.1 560.7L1600.4 554.5L1604.9 548.5L1615.6 535.4L1619.0 531.7L1622.0 529.1L1624.4 527.5L1627.2 526.5L1630.1 526.2L1634.4 526.9L1639.5 528.9L1645.6 532.3L1652.7 537.0L1657.4 540.7L1662.7 545.3L1678.5 561.3L1685.9 569.4L1693.8 578.5L1700.7 587.0L1705.8 593.8L1711.8 603.0L1724.2 625.3L1727.8 630.7L1731.5 635.4L1747.5 653.3L1758.4 665.0L1798.0 704.5L1805.5 711.1L1813.0 717.0L1819.9 721.9L1827.6 726.7L1838.5 732.8L1849.1 738.3L1861.0 743.6L1870.3 747.3L1878.4 749.8L1893.5 753.3L1899.3 754.8L1905.4 756.9L1918.9 762.3L1925.9 764.9L1937.3 768.5L1946.5 770.9L1994.6 780.6L2013.3 784.0L2038.4 787.9L2064.8 791.0L2099.1 794.5L2127.5 796.8L2170.9 799.3L2217.8 801.7L2263.3 803.5L2325.7 805.2L2375.7 806.4L2416.7 807.0" stroke="#00FFFF" stroke-width="6.5" fill="none" stroke-linejoin="round" stroke-linecap="round"/>
<path d="M1454.7 784.8L1462.2 785.4L1469.2 785.5L1476.1 785.0L1482.5 784.0L1487.4 782.8L1491.5 781.1L1495.2 778.7L1498.1 776.0L1500.9 772.5L1503.4 768.2L1505.8 763.2L1508.1 757.1L1510.5 749.5L1516.1 729.3L1525.3 699.7L1530.3 680.3L1532.2 675.2L1534.2 671.8L1538.0 667.9L1551.5 656.8L1557.0 651.7L1574.2 634.3L1588.6 619.0L1593.3 614.5L1597.5 611.0L1602.3 607.4L1608.1 603.5L1612.8 600.7L1616.8 598.7L1620.5 597.1L1624.3 596.0L1627.8 595.4L1631.2 595.2L1636.1 595.9L1641.8 597.7L1649.1 600.9L1658.9 606.0L1667.1 610.8L1675.9 616.5L1685.6 623.4L1693.6 629.6L1700.3 635.5L1708.3 643.1L1721.1 657.1L1725.7 661.7L1743.9 678.0L1750.0 683.9L1757.1 691.7L1771.9 709.9L1779.4 717.9L1786.5 724.3L1794.1 730.7L1801.7 736.4L1809.5 741.8L1818.5 747.2L1829.6 753.0L1840.0 757.8L1849.8 761.7L1856.9 764.1L1864.1 766.1L1888.9 772.0L1897.6 774.2L1903.3 776.0L1915.0 780.3L1920.8 782.1L1931.0 784.4L1945.8 786.8L1961.7 788.8L1985.5 791.4L2075.6 799.4L2103.0 801.5L2127.5 803.1L2194.9 806.3L2254.8 808.4L2352.2 810.3L2416.7 811.0" stroke="#FF00FF" stroke-width="6.5" fill="none" stroke-linejoin="round" stroke-linecap="round"/>
<path d="M1454.7 769.8L1462.2 763.2L1469.2 756.1L1475.4 748.8L1480.2 741.9L1485.2 732.6L1491.8 718.1L1496.3 706.9L1499.7 696.5L1503.3 684.0L1506.7 670.4L1511.4 649.4L1513.9 636.2L1515.6 622.8L1519.0 587.0L1525.8 541.5L1528.0 519.6L1529.3 511.7L1530.3 507.9L1531.7 503.6L1539.7 484.7L1545.4 468.7L1550.7 452.0L1558.5 424.6L1564.3 407.6L1569.7 394.1L1575.3 382.4L1581.8 371.1L1588.4 361.8L1594.6 354.6L1597.2 352.3L1599.7 350.6L1602.8 349.0L1606.0 347.9L1609.0 347.3L1611.9 347.3L1615.8 347.8L1620.0 349.3L1623.5 351.2L1626.8 354.2L1630.3 358.4L1635.5 365.7L1640.4 373.3L1645.3 381.4L1651.9 393.7L1659.6 409.5L1669.9 432.3L1682.8 462.6L1689.1 476.8L1701.2 502.6L1712.4 524.9L1718.2 536.0L1724.4 546.9L1729.5 555.4L1740.9 573.1L1758.4 604.5L1768.4 621.8L1774.8 632.0L1779.4 638.6L1783.4 643.6L1798.4 659.7L1814.9 679.8L1826.1 691.9L1832.9 698.5L1839.8 704.3L1847.5 709.9L1855.6 714.9L1861.7 718.2L1869.8 722.1L1898.0 735.0L1904.6 738.6L1921.0 748.1L1927.8 751.4L1936.1 754.9L1948.3 759.1L2001.9 775.3L2013.6 778.2L2024.4 780.3L2038.7 782.3L2047.2 782.8L2056.2 782.6L2076.6 781.1L2082.1 781.2L2085.5 781.8L2089.3 783.0L2108.9 790.5L2118.2 792.6L2127.0 794.1L2136.0 795.1L2168.9 797.5L2202.8 799.4L2270.8 802.2L2356.7 804.5L2416.7 805.5" stroke="#FF80FF" stroke-width="6.5" fill="none" stroke-linejoin="round" stroke-linecap="round"/>
<path d="M1454.7 789.5L1463.2 790.2L1470.7 790.1L1478.1 789.2L1484.9 787.5L1489.5 785.6L1493.6 782.9L1497.6 779.2L1501.3 774.5L1504.5 768.9L1507.8 761.6L1512.5 748.9L1515.9 738.5L1520.4 720.5L1530.2 675.1L1532.4 666.9L1534.8 659.3L1536.7 654.6L1538.5 651.1L1546.5 639.0L1551.9 628.9L1556.8 618.5L1564.7 599.0L1568.9 590.0L1575.6 577.7L1583.6 565.0L1591.0 554.9L1598.9 545.9L1605.7 539.3L1609.3 536.6L1612.6 534.4L1615.7 532.8L1618.5 531.7L1621.3 531.0L1624.3 530.8L1628.7 531.5L1632.2 533.1L1635.6 535.9L1639.5 540.5L1643.2 545.8L1652.0 559.8L1665.6 577.0L1671.4 585.2L1703.4 636.5L1711.4 648.6L1716.8 655.8L1723.4 663.9L1730.4 671.8L1737.9 679.8L1748.7 690.2L1759.3 699.4L1764.9 703.6L1776.6 711.2L1782.3 715.3L1788.9 720.6L1804.1 733.7L1812.0 739.8L1819.5 744.6L1829.6 750.1L1839.1 754.6L1848.4 758.3L1855.6 760.6L1864.3 762.9L1893.6 769.3L1903.8 771.8L1945.2 783.4L1953.9 785.4L1961.8 786.9L1976.1 789.0L1994.5 791.1L2051.8 796.3L2105.0 801.6L2126.9 803.5L2147.4 804.7L2190.8 806.7L2232.8 808.3L2269.7 809.3L2341.7 810.7L2416.7 811.5" stroke="#808000" stroke-width="6.5" fill="none" stroke-linejoin="round" stroke-linecap="round"/>
<path d="M1454.7 800.8L1461.7 801.1L1469.2 801.1L1477.2 800.8L1482.6 800.2L1487.0 799.3L1490.8 798.0L1493.9 796.4L1497.0 794.0L1499.8 791.2L1502.3 788.1L1504.8 784.3L1507.0 780.4L1516.3 761.0L1522.3 744.6L1527.9 731.8L1533.3 721.1L1535.4 717.7L1537.5 714.9L1540.7 711.8L1550.5 704.1L1560.2 694.7L1567.1 686.8L1575.0 675.8L1577.8 672.3L1580.9 669.1L1584.7 665.8L1588.4 663.3L1592.6 660.7L1596.7 658.7L1601.3 656.8L1606.9 654.8L1611.7 653.4L1615.7 652.7L1619.6 652.5L1623.6 652.8L1627.5 653.6L1631.8 654.8L1637.0 656.7L1642.9 659.4L1650.5 663.2L1657.1 666.8L1662.6 670.2L1673.2 677.7L1686.6 688.2L1693.4 694.1L1709.0 708.8L1717.9 716.1L1726.0 722.0L1734.8 727.8L1744.6 733.8L1754.1 739.3L1767.0 746.0L1793.9 759.1L1809.9 766.3L1818.3 769.5L1827.8 772.5L1837.5 775.1L1847.7 777.4L1866.9 780.9L1889.6 784.4L1917.4 788.4L1956.0 793.4L1971.9 795.0L2012.8 798.1L2057.6 802.6L2102.3 807.4L2126.3 809.4L2139.7 810.1L2169.2 810.9L2233.7 812.1L2345.7 812.9L2416.7 813.0" stroke="#000080" stroke-width="6.5" fill="none" stroke-linejoin="round" stroke-linecap="round"/>
<path d="M1454.7 771.0L1461.6 769.7L1468.2 767.6L1475.5 764.3L1482.0 760.6L1487.2 756.7L1491.8 752.1L1495.4 747.4L1498.4 742.2L1501.8 734.4L1505.0 725.5L1507.8 715.9L1511.4 701.3L1518.5 669.6L1528.4 618.1L1531.3 604.9L1533.8 595.2L1536.5 587.2L1544.4 568.8L1551.9 549.7L1554.4 541.6L1558.1 527.1L1560.2 519.9L1568.3 495.7L1572.0 485.9L1575.8 477.2L1580.7 469.1L1587.5 459.8L1594.5 452.0L1600.5 446.8L1606.9 442.9L1610.0 441.4L1613.3 440.2L1616.2 439.7L1618.7 439.6L1622.1 440.1L1625.8 441.4L1630.7 443.9L1635.4 446.8L1638.5 449.2L1641.3 452.0L1644.3 455.5L1647.5 459.9L1652.6 467.9L1658.0 477.5L1684.7 530.6L1699.0 557.6L1705.2 568.4L1714.8 583.0L1724.4 596.4L1729.3 602.1L1738.2 610.9L1741.7 615.1L1745.8 621.4L1755.3 637.8L1758.4 642.3L1762.5 647.4L1770.3 655.8L1792.7 678.7L1807.5 692.8L1816.9 701.0L1827.4 708.7L1842.9 718.8L1856.3 726.6L1869.2 733.3L1878.4 736.9L1894.3 741.6L1900.9 743.9L1928.0 755.5L1942.4 761.3L1949.9 763.8L1979.1 772.6L1985.9 774.5L1993.2 776.1L2026.1 782.5L2042.7 786.0L2051.1 787.4L2061.0 788.5L2090.9 791.3L2132.5 796.9L2144.4 797.9L2164.9 799.1L2194.3 800.4L2240.8 801.9L2416.7 806.5" stroke="#800080" stroke-width="6.5" fill="none" stroke-linejoin="round" stroke-linecap="round"/>
<path d="M1454.7 779.0L1461.6 778.0L1468.4 776.3L1476.4 773.5L1483.2 770.3L1488.1 766.9L1493.0 762.6L1496.8 758.1L1500.4 752.6L1503.9 746.0L1507.0 739.2L1509.8 731.7L1512.2 724.1L1515.7 711.1L1519.7 694.5L1524.6 672.6L1531.4 640.3L1534.8 625.7L1537.2 617.5L1540.1 609.0L1543.3 600.6L1547.1 591.9L1551.2 583.8L1555.9 575.6L1567.4 557.4L1581.6 533.9L1588.7 523.0L1592.2 518.2L1596.0 514.2L1598.0 512.8L1600.6 511.4L1603.4 510.4L1606.8 509.5L1610.2 509.0L1613.2 508.9L1616.7 509.3L1620.1 510.0L1623.8 511.4L1627.4 513.1L1630.3 515.0L1632.6 516.9L1634.7 519.0L1637.2 522.1L1642.2 529.6L1647.5 538.1L1659.7 559.3L1664.5 568.6L1672.3 586.0L1675.9 592.6L1678.2 595.8L1680.2 597.9L1687.5 603.1L1690.1 605.4L1692.7 608.4L1695.7 612.4L1701.1 620.8L1709.0 634.7L1711.8 640.0L1716.8 650.9L1719.3 655.8L1723.0 661.2L1727.9 666.8L1732.5 671.4L1738.0 676.5L1756.8 692.2L1774.3 707.9L1795.4 726.2L1806.3 735.1L1814.8 741.1L1824.8 747.0L1835.5 752.4L1846.1 756.8L1854.1 759.5L1863.3 762.0L1893.5 768.7L1903.7 771.2L1938.8 781.2L1952.9 784.8L1961.2 786.4L1971.1 787.9L2001.4 791.3L2049.7 795.6L2116.9 802.2L2136.8 803.6L2168.8 805.3L2217.3 807.3L2264.2 808.7L2358.7 810.4L2416.7 811.0" stroke="#800000" stroke-width="6.5" fill="none" stroke-linejoin="round" stroke-linecap="round"/>
<path d="M1454.7 780.0L1462.1 778.7L1469.7 776.3L1478.5 772.7L1485.0 769.0L1490.5 764.8L1495.1 760.2L1499.4 754.6L1503.6 747.8L1506.5 742.1L1508.9 736.0L1510.9 729.3L1513.3 719.1L1516.1 705.9L1519.2 689.2L1526.6 644.8L1530.1 625.6L1533.6 610.0L1535.1 604.8L1536.9 600.1L1540.7 592.5L1547.0 581.7L1554.6 570.6L1563.6 558.5L1567.1 552.5L1569.1 547.9L1570.8 542.7L1575.2 525.3L1576.9 519.5L1579.1 514.0L1581.9 509.3L1584.1 506.6L1587.1 503.9L1590.3 501.7L1594.3 499.6L1599.0 497.9L1603.8 496.7L1608.3 496.0L1612.2 495.9L1616.2 496.2L1620.1 497.0L1623.9 498.1L1627.6 499.6L1630.2 501.1L1632.6 502.9L1635.1 505.3L1637.3 508.0L1642.1 515.0L1647.4 524.0L1674.2 577.7L1679.1 586.4L1683.3 593.2L1688.0 599.1L1700.9 613.6L1730.9 651.1L1764.0 690.5L1769.9 698.0L1776.6 707.3L1780.1 711.5L1786.8 718.3L1794.2 725.0L1801.9 731.3L1809.6 736.9L1817.6 742.0L1827.6 747.6L1836.6 752.1L1845.3 755.9L1852.8 758.5L1861.0 760.9L1900.5 769.7L1911.1 772.6L1942.8 781.7L1952.5 784.1L1961.4 785.8L1975.2 787.8L1993.1 789.9L2050.8 795.2L2104.0 800.6L2126.9 802.6L2148.9 804.0L2192.3 806.2L2234.3 807.8L2270.8 808.8L2341.2 810.2L2416.7 811.0" stroke="#008000" stroke-width="6.5" fill="none" stroke-linejoin="round" stroke-linecap="round"/>
<path d="M1454.7 794.2L1462.7 794.8L1470.2 794.8L1477.6 794.2L1485.0 792.9L1489.7 791.4L1494.2 789.2L1498.2 786.3L1501.7 782.7L1504.3 779.1L1506.5 775.2L1508.5 770.6L1510.8 764.0L1515.8 746.7L1527.9 697.7L1531.2 688.3L1533.0 684.2L1534.8 681.2L1537.5 677.7L1544.6 670.6L1548.6 665.5L1556.3 654.4L1565.4 639.5L1570.1 633.1L1577.6 624.3L1587.3 614.3L1591.7 610.2L1595.6 607.0L1599.3 604.5L1603.7 602.1L1608.6 599.8L1612.9 598.3L1616.8 597.4L1620.7 597.2L1624.2 597.5L1628.1 598.4L1632.3 599.9L1636.4 601.7L1641.2 604.4L1646.7 607.9L1652.4 611.9L1656.2 615.1L1660.9 619.6L1676.2 636.1L1712.7 676.5L1730.6 695.4L1739.5 704.2L1755.5 719.2L1764.5 727.2L1772.6 733.8L1780.3 739.4L1789.9 745.7L1798.5 750.8L1806.9 755.2L1814.2 758.5L1822.6 761.7L1832.5 765.1L1842.6 768.0L1851.8 770.3L1860.6 772.2L1887.8 776.4L1897.6 778.2L1904.4 779.8L1918.9 783.9L1927.2 785.6L1945.9 788.7L1984.1 793.8L1999.4 795.7L2013.4 797.0L2089.1 802.7L2136.4 806.7L2170.3 809.2L2192.3 810.5L2213.3 811.2L2248.8 812.1L2289.7 812.7L2331.2 812.9L2373.7 812.8L2416.7 812.3" stroke="#008080" stroke-width="6.5" fill="none" stroke-linejoin="round" stroke-linecap="round"/>
<path d="M1454.7 776.9L1461.5 775.3L1468.4 772.5L1475.4 768.6L1481.0 764.5L1485.6 759.9L1489.2 755.1L1492.3 749.4L1495.6 741.6L1498.4 733.6L1501.1 724.0L1504.7 708.9L1508.6 691.3L1525.3 608.5L1532.7 568.2L1536.3 551.6L1541.1 532.7L1552.4 489.7L1562.8 452.1L1567.8 434.8L1572.9 419.7L1580.1 401.5L1588.6 381.8L1591.9 375.0L1595.0 369.3L1597.4 365.5L1599.7 362.3L1602.1 359.8L1604.7 357.4L1607.5 355.5L1610.6 353.9L1613.4 353.1L1615.8 352.9L1619.7 353.6L1623.7 355.4L1627.9 358.2L1631.7 361.4L1636.1 366.2L1640.8 372.0L1645.0 378.2L1648.8 384.7L1654.4 395.8L1660.3 409.1L1678.1 452.0L1699.1 504.4L1707.2 522.7L1717.6 543.8L1725.7 558.8L1741.8 585.8L1751.0 600.1L1762.5 615.8L1765.7 619.7L1768.6 622.4L1771.3 624.5L1778.9 629.4L1783.7 633.0L1815.2 658.4L1823.0 663.8L1830.7 668.5L1836.9 671.7L1843.3 674.4L1874.0 686.5L1902.2 696.9L1957.8 719.4L1970.4 724.3L1983.6 728.8L1997.0 733.0L2007.5 736.0L2022.6 739.7L2028.8 741.5L2048.8 749.4L2068.9 755.5L2091.7 764.4L2101.6 767.8L2109.4 769.9L2115.3 770.9L2129.1 772.6L2133.5 773.6L2143.6 776.5L2148.5 777.7L2169.7 780.7L2204.0 787.6L2229.8 790.9L2248.6 793.8L2257.0 794.9L2268.5 795.9L2278.4 796.5L2325.9 797.7L2333.9 798.0L2339.9 798.7L2346.8 799.8L2351.1 800.8L2358.4 802.8L2362.8 803.3L2366.8 803.3L2376.7 802.4L2382.7 802.2L2401.7 802.0L2416.7 802.2" stroke="#0000A0" stroke-width="6.5" fill="none" stroke-linejoin="round" stroke-linecap="round"/>
<path d="M1454.7 774.0L1462.1 773.0L1470.4 771.1L1479.9 768.0L1486.7 764.9L1492.6 761.1L1497.5 756.9L1501.7 751.9L1505.4 746.1L1507.8 741.1L1509.7 736.0L1511.7 728.2L1514.0 717.5L1519.8 685.5L1532.7 605.1L1535.5 591.9L1536.8 587.6L1538.6 582.9L1541.7 576.1L1545.4 569.6L1548.0 565.9L1554.7 557.8L1557.8 552.7L1561.2 545.0L1566.8 527.9L1569.5 520.9L1573.2 513.8L1577.9 506.8L1582.4 501.4L1587.2 496.3L1591.6 492.3L1596.1 489.0L1600.8 486.4L1606.4 484.1L1610.7 483.0L1615.2 482.8L1619.1 483.3L1623.4 484.6L1627.9 486.6L1631.8 488.9L1635.2 491.7L1638.8 495.3L1642.7 499.8L1646.3 504.6L1649.5 509.6L1652.5 515.4L1660.2 534.4L1664.0 542.6L1680.1 574.7L1685.9 585.2L1690.1 592.0L1694.1 597.8L1705.7 611.5L1709.6 616.7L1713.7 622.9L1724.5 640.9L1728.2 646.3L1732.3 651.3L1740.7 660.6L1755.4 675.5L1760.6 681.6L1775.9 700.7L1781.3 706.6L1787.5 712.5L1807.3 729.3L1818.0 737.5L1824.6 742.0L1831.1 745.8L1837.3 749.0L1844.2 752.0L1855.4 756.2L1868.3 760.2L1877.5 762.4L1893.3 765.1L1900.1 766.6L1906.3 768.5L1922.3 774.2L1937.1 778.9L1947.2 781.6L1959.0 784.0L1975.8 786.2L2043.5 792.9L2091.3 796.6L2126.0 801.2L2152.4 803.0L2187.4 804.7L2344.2 810.1L2360.7 810.5L2374.7 810.4L2416.7 809.1" stroke="#FF8000" stroke-width="6.5" fill="none" stroke-linejoin="round" stroke-linecap="round"/>
<path d="M1454.7 777.3L1485.1 749.1L1489.6 744.4L1493.2 739.7L1496.9 733.7L1500.0 727.4L1502.3 721.3L1504.4 714.2L1506.9 704.5L1511.1 684.4L1514.3 664.7L1526.3 584.1L1530.7 560.0L1535.3 539.5L1538.0 530.4L1553.4 481.3L1562.3 447.9L1566.9 433.1L1576.6 405.3L1585.1 382.3L1588.8 374.1L1590.3 371.5L1592.0 369.1L1593.7 367.3L1595.2 366.2L1596.9 365.4L1598.3 365.1L1600.2 365.1L1602.0 365.4L1603.9 366.1L1606.0 367.4L1610.5 371.2L1622.3 384.2L1634.6 395.8L1640.9 402.3L1647.7 410.3L1653.0 417.5L1678.0 457.9L1687.1 471.7L1691.6 477.7L1696.5 482.7L1700.4 485.7L1704.2 488.0L1708.8 490.1L1714.0 491.8L1718.9 492.8L1723.3 493.1L1727.3 492.8L1731.1 491.7L1735.2 489.9L1739.0 487.6L1742.6 484.9L1746.2 481.4L1749.7 477.2L1753.2 472.4L1756.7 466.9L1760.4 460.3L1765.8 449.6L1772.3 435.5L1789.5 394.0L1805.9 357.5L1825.2 316.3L1830.6 306.2L1835.9 297.7L1842.1 289.3L1849.1 281.4L1857.3 273.4L1865.1 267.1L1870.5 263.6L1876.0 261.2L1882.3 259.7L1888.8 259.2L1892.2 259.5L1896.1 260.2L1900.0 261.3L1904.2 262.9L1908.7 264.9L1913.6 267.6L1917.8 270.2L1921.8 273.1L1928.2 278.7L1954.0 303.9L1961.9 312.9L1970.0 323.6L1977.0 334.0L1982.6 343.5L1986.9 352.0L1996.3 371.8L2001.2 381.1L2006.1 389.2L2017.5 406.9L2022.6 415.5L2027.4 424.8L2037.8 446.5L2042.9 456.2L2047.8 464.3L2063.8 489.7L2084.2 526.4L2100.9 554.8L2119.3 584.0L2128.2 597.3L2137.0 610.1L2148.5 625.8L2156.0 635.8L2162.4 643.5L2168.5 650.1L2193.0 674.4L2208.3 687.9L2216.9 697.0L2221.5 701.6L2236.8 715.3L2243.7 721.0L2249.0 724.9L2261.3 732.4L2272.8 740.4L2280.0 744.9L2284.4 747.2L2288.2 748.5L2291.6 749.3L2299.5 750.6L2303.7 751.9L2307.3 753.6L2316.6 759.4L2320.3 761.0L2325.4 762.9L2336.9 766.5L2350.6 769.5L2355.8 771.1L2360.7 773.4L2371.0 779.7L2376.4 782.0L2392.4 786.3L2405.3 790.1L2411.2 791.4L2416.6 792.2" stroke="#8000FF" stroke-width="6.5" fill="none" stroke-linejoin="round" stroke-linecap="round"/>
<line x1="1984.9" y1="115.6" x2="2079.9" y2="115.6" stroke="#000000" stroke-width="5.8"/>
<text x="2087.34" y="127.8" font-size="38.50" textLength="124.03" lengthAdjust="spacing">solution</text>
<text x="2578.99" y="127.8" font-size="38.50" transform="scale(0.8600 1)" font-weight="bold">1</text>
<line x1="1984.9" y1="165.3" x2="2079.9" y2="165.3" stroke="#00FF00" stroke-width="5.8"/>
<text x="2086.47" y="177.5" font-size="38.50" textLength="47.98" lengthAdjust="spacing">Ca</text>
<text x="2134.57" y="158.1" font-size="23.00" textLength="24.10" lengthAdjust="spacing">2+</text>
<line x1="1984.9" y1="215.0" x2="2079.9" y2="215.0" stroke="#00FFFF" stroke-width="5.8"/>
<text x="2086.47" y="227.2" font-size="38.50" textLength="47.98" lengthAdjust="spacing">Co</text>
<text x="2133.32" y="207.8" font-size="23.00" textLength="24.10" lengthAdjust="spacing">3+</text>
<line x1="1984.9" y1="264.7" x2="2079.9" y2="264.7" stroke="#FF80FF" stroke-width="5.8"/>
<text x="2085.22" y="276.9" font-size="38.50" textLength="45.85" lengthAdjust="spacing">Eu</text>
<text x="2128.99" y="257.5" font-size="23.00" textLength="24.10" lengthAdjust="spacing">3+</text>
<line x1="1984.9" y1="314.4" x2="2079.9" y2="314.4" stroke="#000080" stroke-width="5.8"/>
<text x="2085.22" y="326.6" font-size="38.50" textLength="43.69" lengthAdjust="spacing">Fe</text>
<text x="2127.64" y="307.2" font-size="23.00" textLength="24.10" lengthAdjust="spacing">3+</text>
<line x1="1984.9" y1="364.1" x2="2079.9" y2="364.1" stroke="#800000" stroke-width="5.8"/>
<text x="2085.22" y="376.3" font-size="38.50" textLength="52.24" lengthAdjust="spacing">Mg</text>
<text x="2135.15" y="356.9" font-size="23.00" textLength="24.10" lengthAdjust="spacing">2+</text>
<line x1="1984.9" y1="413.8" x2="2079.9" y2="413.8" stroke="#008080" stroke-width="5.8"/>
<text x="2085.22" y="426.0" font-size="38.50" textLength="35.12" lengthAdjust="spacing">Ni</text>
<text x="2117.92" y="406.6" font-size="23.00" textLength="24.10" lengthAdjust="spacing">2+</text>
<line x1="1984.9" y1="463.5" x2="2079.9" y2="463.5" stroke="#FF8000" stroke-width="5.8"/>
<text x="2087.53" y="475.7" font-size="38.50" textLength="43.69" lengthAdjust="spacing">Tb</text>
<text x="2130.05" y="456.3" font-size="23.00" textLength="24.10" lengthAdjust="spacing">3+</text>
<line x1="2253.2" y1="115.6" x2="2347.7" y2="115.6" stroke="#FF0000" stroke-width="5.8"/>
<text x="2354.30" y="127.8" font-size="38.50" textLength="32.99" lengthAdjust="spacing">Al</text>
<text x="2385.17" y="108.4" font-size="23.00" textLength="24.10" lengthAdjust="spacing">3+</text>
<line x1="2249.8" y1="165.3" x2="2343.6" y2="165.3" stroke="#0000FF" stroke-width="5.8"/>
<text x="2350.07" y="177.5" font-size="38.50" textLength="47.98" lengthAdjust="spacing">Cd</text>
<text x="2395.76" y="158.1" font-size="23.00" textLength="24.10" lengthAdjust="spacing">2+</text>
<line x1="2249.8" y1="215.0" x2="2343.6" y2="215.0" stroke="#FF00FF" stroke-width="5.8"/>
<text x="2350.07" y="227.2" font-size="38.50" textLength="47.98" lengthAdjust="spacing">Cu</text>
<text x="2395.67" y="207.8" font-size="23.00" textLength="24.10" lengthAdjust="spacing">2+</text>
<line x1="2247.5" y1="264.7" x2="2342.0" y2="264.7" stroke="#808000" stroke-width="5.8"/>
<text x="2348.42" y="276.9" font-size="38.50" textLength="43.69" lengthAdjust="spacing">Fe</text>
<text x="2390.55" y="257.5" font-size="23.00" textLength="24.10" lengthAdjust="spacing">2+</text>
<line x1="2245.9" y1="314.4" x2="2339.7" y2="314.4" stroke="#800080" stroke-width="5.8"/>
<text x="2345.72" y="326.6" font-size="38.50" textLength="47.98" lengthAdjust="spacing">Hg</text>
<text x="2391.41" y="307.2" font-size="23.00" textLength="24.10" lengthAdjust="spacing">2+</text>
<line x1="2243.1" y1="364.1" x2="2338.3" y2="364.1" stroke="#008000" stroke-width="5.8"/>
<text x="2343.82" y="376.3" font-size="38.50" textLength="52.24" lengthAdjust="spacing">Mn</text>
<text x="2393.65" y="356.9" font-size="23.00" textLength="24.10" lengthAdjust="spacing">2+</text>
<line x1="2247.0" y1="413.8" x2="2342.0" y2="413.8" stroke="#0000A0" stroke-width="5.8"/>
<text x="2348.82" y="426.0" font-size="38.50" textLength="45.85" lengthAdjust="spacing">Pb</text>
<text x="2393.26" y="406.6" font-size="23.00" textLength="24.10" lengthAdjust="spacing">2+</text>
<line x1="2245.9" y1="463.5" x2="2339.7" y2="463.5" stroke="#8000FF" stroke-width="5.8"/>
<text x="2346.95" y="475.7" font-size="38.50" textLength="43.69" lengthAdjust="spacing">Zn</text>
<text x="2388.21" y="456.3" font-size="23.00" textLength="24.10" lengthAdjust="spacing">2+</text>
</svg>
</body></html>
